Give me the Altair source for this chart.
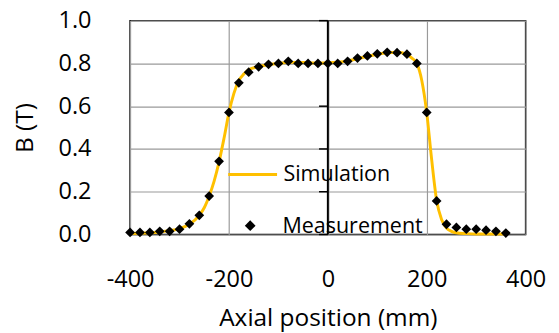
import altair as alt
import pandas as pd

# Measurement data (axial position in mm, B in T)
meas_x = [-400, -380, -360, -340, -320, -300, -280, -260, -240, -220,
          -200, -180, -160, -140, -120, -100, -80, -60, -40, -20,
          0, 20, 40, 60, 80, 100, 120, 140, 160, 180,
          200, 220, 240, 260, 280, 300, 320, 340, 360]
meas_b = [0.010, 0.010, 0.010, 0.015, 0.015, 0.025, 0.050, 0.090, 0.180, 0.342,
          0.571, 0.709, 0.759, 0.784, 0.796, 0.800, 0.810, 0.800, 0.800, 0.800,
          0.800, 0.800, 0.810, 0.825, 0.835, 0.845, 0.852, 0.850, 0.843, 0.800,
          0.571, 0.157, 0.048, 0.033, 0.025, 0.025, 0.020, 0.015, 0.007]

# Simulation curve
sim_x = [-400, -380, -360, -340, -320, -300, -280, -260, -250, -240,
         -230, -220, -210, -200, -190, -180, -170, -160, -140, -120,
         -100, -80, -60, -40, -20, 0, 20, 40, 60, 80,
         100, 120, 140, 160, 170, 180, 190, 200, 210, 220,
         230, 240, 250, 260, 280, 300, 320, 340, 360]
sim_b = [0.005, 0.006, 0.008, 0.012, 0.018, 0.028, 0.048, 0.090, 0.125, 0.180,
         0.250, 0.340, 0.450, 0.570, 0.660, 0.720, 0.750, 0.770, 0.785, 0.795,
         0.800, 0.805, 0.805, 0.803, 0.802, 0.803, 0.806, 0.812, 0.822, 0.833,
         0.843, 0.850, 0.852, 0.842, 0.825, 0.800, 0.720, 0.570, 0.350, 0.160,
         0.070, 0.030, 0.015, 0.008, 0.004, 0.002, 0.002, 0.002, 0.002]

x_ticks = [-400, -200, 0, 200, 400]
y_ticks = [0.0, 0.2, 0.4, 0.6, 0.8, 1.0]

FONT = "Open Sans"

sim_df = pd.DataFrame({"x": sim_x, "b": sim_b, "series": "Simulation"})
meas_df = pd.DataFrame({"x": meas_x, "b": meas_b, "series": "Measurement"})
zero_df = pd.DataFrame({"x": [0]})
tick_df = pd.DataFrame({"x": [0] * len(y_ticks), "b": y_ticks})

xscale = alt.Scale(domain=[-400, 400], nice=False, zero=False)
yscale = alt.Scale(domain=[0, 1], nice=False)

x_axis = alt.Axis(values=x_ticks, title="Axial position (mm)",
                  labelExpr="datum.value < 0 ? '-' + abs(datum.value) : '' + datum.value",
                  grid=True, gridColor="#9a9a9a", gridWidth=1.2,
                  domain=False, ticks=False, labelPadding=34, labelFlush=False,
                  labelFontSize=24, titleFontSize=25, titlePadding=15)
y_axis = alt.Axis(values=y_ticks, format=".1f", title="B (T)",
                  grid=True, gridColor="#9a9a9a", gridWidth=1.2,
                  domain=False, ticks=False, labelPadding=40,
                  labelFontSize=24, titleFontSize=25, titlePadding=21)

X = alt.X("x:Q", scale=xscale, axis=x_axis)
Y = alt.Y("b:Q", scale=yscale, axis=y_axis)

zero = alt.Chart(zero_df).mark_rule(color="black", strokeWidth=2).encode(x=X)

zticks = alt.Chart(tick_df).mark_point(
    shape="M -2 0 L 0 0", size=81, filled=False, stroke="black",
    strokeWidth=1.5, opacity=1
).encode(x=X, y=Y)

line = alt.Chart(sim_df).mark_line(strokeWidth=3, interpolate="monotone").encode(
    x=X, y=Y,
    color=alt.Color("series:N",
                    scale=alt.Scale(domain=["Simulation"], range=["#FFC000"]),
                    legend=alt.Legend(title=None, orient="none", legendX=99, legendY=131,
                                      symbolType="stroke", symbolSize=2500,
                                      symbolStrokeWidth=3, labelFontSize=22,
                                      labelOffset=5, padding=0)),
)

points = alt.Chart(meas_df).mark_point(shape="diamond", filled=True, size=100,
                                       color="black", opacity=1).encode(
    x=X, y=Y,
    shape=alt.Shape("series:N",
                    scale=alt.Scale(domain=["Measurement"], range=["diamond"]),
                    legend=alt.Legend(title=None, orient="none", legendX=112, legendY=199,
                                      symbolSize=121, symbolFillColor="black",
                                      symbolStrokeWidth=0, labelFontSize=22,
                                      labelOffset=22, padding=0)),
)

chart = alt.layer(zero, zticks, line, points).properties(
    width=405, height=219,
    padding={"left": 5, "top": -3, "right": 5, "bottom": 3},
).configure(font=FONT).configure_view(
    stroke="black", strokeWidth=1.5
).configure_axis(
    labelFont=FONT, titleFont=FONT, labelColor="black", titleColor="black",
    titleFontWeight="normal"
).configure_legend(
    labelFont=FONT, labelColor="black"
)

chart.save("out.html", embed_options={"renderer": "svg", "actions": False})
